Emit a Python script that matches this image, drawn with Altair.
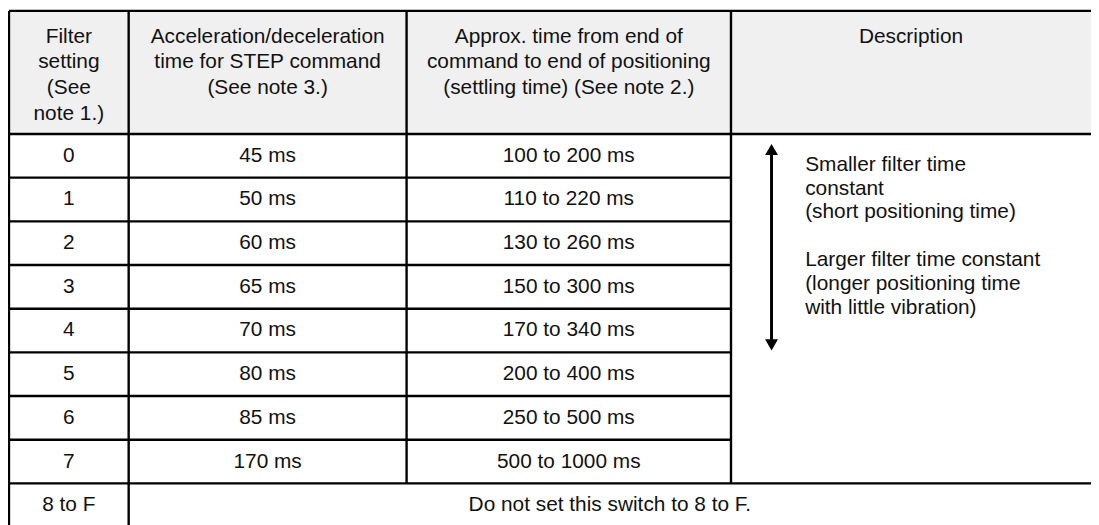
import altair as alt
import pandas as pd

# ---------------- data ----------------
settings = ["0", "1", "2", "3", "4", "5", "6", "7"]
accel_times = ["45 ms", "50 ms", "60 ms", "65 ms", "70 ms", "80 ms", "85 ms", "170 ms"]
settling_times = ["100 to 200 ms", "110 to 220 ms", "130 to 260 ms", "150 to 300 ms",
                  "170 to 340 ms", "200 to 400 ms", "250 to 500 ms", "500 to 1000 ms"]
header_labels = [
    "Filter\nsetting\n(See\nnote 1.)",
    "Acceleration/deceleration\ntime for STEP command\n(See note 3.)",
    "Approx. time from end of\ncommand to end of positioning\n(settling time) (See note 2.)",
    "Description",
]
description_small = ["Smaller filter time", "constant", "(short positioning time)"]
description_large = ["Larger filter time constant", "(longer positioning time",
                     "with little vibration)"]
last_setting = "8 to F"
last_note = "Do not set this switch to 8 to F."

# ---------------- layout (table grid units) ----------------
COL = [5, 126, 407, 735, 1099]
TOP = 9
HEAD_BOT = 133
ROW_H = 44
N_ROWS = len(settings) + 1
row_edges = [HEAD_BOT + i * ROW_H for i in range(N_ROWS + 1)]
centers = [(COL[i] + COL[i + 1]) / 2 for i in range(4)]
ARROW_X = 776
ARROW_TOP = 143
ARROW_BOT = 351
DESC_X = 810
DESC_Y = 153
DESC_LH = 24

FONT = "Liberation Sans"
FS = 21
W, H = 1091, 517

xs = alt.Scale(domain=[4, 1099], nice=False, zero=False)
ys = alt.Scale(domain=[8, 8 + H], nice=False, zero=False, reverse=True)

def X(f="x"):
    return alt.X(f"{f}:Q", scale=xs, axis=None)

def Y(f="y"):
    return alt.Y(f"{f}:Q", scale=ys, axis=None)

# header background
bg = pd.DataFrame({"x": [COL[0]], "x2": [COL[-1]], "y": [TOP], "y2": [HEAD_BOT]})
bg_layer = alt.Chart(bg).mark_rect(color="#f0f0f0").encode(
    x=X(), x2="x2:Q", y=Y(), y2="y2:Q")

# horizontal lines
hl = [(COL[0], COL[-1], TOP), (COL[0], COL[-1], HEAD_BOT)]
for e in row_edges[1:len(settings)]:
    hl.append((COL[0], COL[3], e))
hl.append((COL[0], COL[-1], row_edges[len(settings)]))
hdf = pd.DataFrame(hl, columns=["x", "x2", "y"])
h_layer = alt.Chart(hdf).mark_rule(color="#000", strokeWidth=2.4).encode(
    x=X(), x2="x2:Q", y=Y())

# vertical lines
vl = [(COL[0], TOP, row_edges[-1]), (COL[1], TOP, row_edges[-1]),
      (COL[2], TOP, row_edges[len(settings)]), (COL[3], TOP, row_edges[len(settings)])]
vdf = pd.DataFrame(vl, columns=["x", "y", "y2"])
v_layer = alt.Chart(vdf).mark_rule(color="#000", strokeWidth=2.4).encode(
    x=X(), y=Y(), y2="y2:Q")

# header text
hdr = pd.DataFrame({"x": centers, "y": [24] * 4, "t": header_labels})
hdr_layer = alt.Chart(hdr).mark_text(
    font=FONT, fontSize=FS, color="#111", baseline="top", align="center",
    lineBreak="\n", lineHeight=26).encode(x=X(), y=Y(), text="t:N")

# body text
rows = []
for i in range(len(settings)):
    yc = (row_edges[i] + row_edges[i + 1]) / 2
    rows.append((centers[0], yc, settings[i]))
    rows.append((centers[1], yc, accel_times[i]))
    rows.append((centers[2], yc, settling_times[i]))
yl = (row_edges[len(settings)] + row_edges[len(settings) + 1]) / 2
rows.append((centers[0], yl, last_setting))
rows.append(((COL[1] + COL[-1]) / 2, yl, last_note))
bdf = pd.DataFrame(rows, columns=["x", "y", "t"])
body_layer = alt.Chart(bdf).mark_text(
    font=FONT, fontSize=FS, color="#111", baseline="middle", align="center").encode(
    x=X(), y=Y(), text="t:N")

# description text (two paragraphs separated by a blank line)
ddf = pd.DataFrame({
    "x": [DESC_X, DESC_X],
    "y": [DESC_Y, DESC_Y + (len(description_small) + 1) * DESC_LH],
    "t": ["\n".join(description_small), "\n".join(description_large)],
})
desc_layer = alt.Chart(ddf).mark_text(
    font=FONT, fontSize=FS, color="#111", baseline="top", align="left",
    lineBreak="\n", lineHeight=DESC_LH).encode(x=X(), y=Y(), text="t:N")

# arrow
adf = pd.DataFrame({"x": [ARROW_X], "y": [ARROW_TOP + 8], "y2": [ARROW_BOT - 8]})
arrow_line = alt.Chart(adf).mark_rule(color="#000", strokeWidth=3).encode(
    x=X(), y=Y(), y2="y2:Q")
up = pd.DataFrame({"x": [ARROW_X], "y": [ARROW_TOP + 5.6]})
down = pd.DataFrame({"x": [ARROW_X], "y": [ARROW_BOT - 5.6]})
up_layer = alt.Chart(up).mark_point(shape="triangle-up", size=169, filled=True,
                                    color="#000", opacity=1).encode(x=X(), y=Y())
down_layer = alt.Chart(down).mark_point(shape="triangle-down", size=169, filled=True,
                                        color="#000", opacity=1).encode(x=X(), y=Y())

chart = alt.layer(bg_layer, h_layer, v_layer, hdr_layer, body_layer, desc_layer,
                  arrow_line, up_layer, down_layer).properties(
    width=W, height=H, padding=0, autosize=alt.AutoSizeParams(type="none"),
    background="white"
).configure_view(stroke=None)

chart.save("out.html", embed_options={"renderer": "svg", "actions": False})
